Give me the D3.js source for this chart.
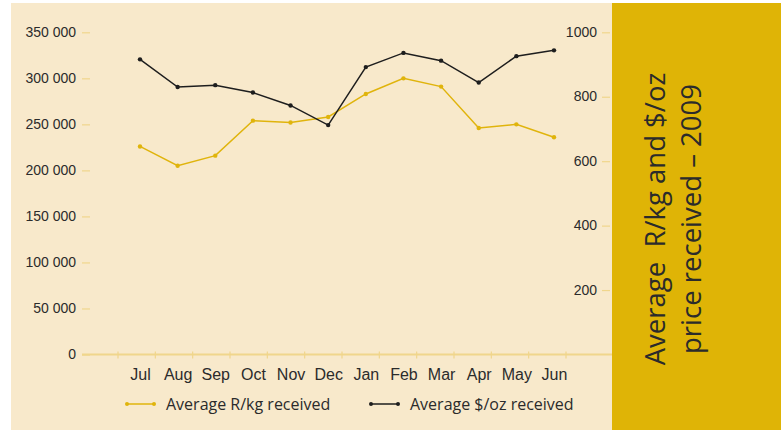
<!DOCTYPE html>
<html>
<head>
<meta charset="utf-8">
<script src="https://cdn.jsdelivr.net/npm/d3@7"></script>
<style>
  html, body { margin: 0; padding: 0; background: #fff; }
  svg { display: block; font-family: "Open Sans", sans-serif; }
  .tick text { fill: #2b2b2b; }
</style>
</head>
<body>
<svg id="chart" width="781" height="430"></svg>
<script>
// --- data ---
const months = ["Jul", "Aug", "Sep", "Oct", "Nov", "Dec", "Jan", "Feb", "Mar", "Apr", "May", "Jun"];
const randPerKg = [226000, 205000, 216000, 254000, 252000, 258000, 283000, 300000, 291000, 246000, 250000, 236000];
const usdPerOz = [916, 830, 836, 813, 773, 712, 892, 936, 912, 844, 926, 944];
const leftTicks = [0, 50000, 100000, 150000, 200000, 250000, 300000, 350000];
const rightTicks = [200, 400, 600, 800, 1000];
const seriesNames = ["Average R/kg received", "Average $/oz received"];
const titleLines = ["Average  R/kg and $/oz", "price received \u2013 2009"];

const colors = {
  bg: "#f8e9cb",
  panel: "#dfb406",
  gold: "#e0b40c",
  black: "#1e1e1e",
  axis: "#f0d68c",
  text: "#2b2b2b"
};

const svg = d3.select("#chart");

// backgrounds
svg.append("rect").attr("x", 11).attr("y", 3).attr("width", 601).attr("height", 427).attr("fill", colors.bg);
svg.append("rect").attr("x", 612).attr("y", 3).attr("width", 169).attr("height", 427).attr("fill", colors.panel);

// scales
const yTop = 32.3, yBottom = 354.5;
const yLeft = d3.scaleLinear().domain([0, 350000]).range([yBottom, yTop]);
const yRight = d3.scaleLinear().domain([0, 1000]).range([yBottom, yTop]);
const xPoint = d3.scalePoint().domain(months).range([140, 554]);
const xBand = d3.scaleBand().domain(months).range([118, 566]);

const fmt = v => d3.format(",")(v).replace(/,/g, " ");

// left axis
const leftAxis = svg.append("g")
  .attr("transform", "translate(90,0)")
  .call(d3.axisLeft(yLeft).tickValues(leftTicks).tickFormat(fmt).tickSize(8).tickPadding(6));
leftAxis.select(".domain").remove();
leftAxis.selectAll(".tick line").attr("stroke", colors.axis).attr("stroke-width", 1.2);
leftAxis.selectAll(".tick text").attr("font-size", 14).attr("dy", "0.3em");

// right axis
const rightAxis = svg.append("g")
  .attr("transform", "translate(610,0)")
  .call(d3.axisLeft(yRight).tickValues(rightTicks).tickFormat(d3.format("d")).tickSize(8).tickPadding(5));
rightAxis.select(".domain").remove();
rightAxis.selectAll(".tick line").attr("stroke", colors.axis).attr("stroke-width", 1.2);
rightAxis.selectAll(".tick text").attr("font-size", 14).attr("dy", "0.3em");

// x axis line + tick marks at band boundaries
svg.append("line")
  .attr("x1", 82).attr("x2", 612)
  .attr("y1", yBottom).attr("y2", yBottom)
  .attr("stroke", colors.axis).attr("stroke-width", 2);
const boundaries = months.map(m => xBand(m)).concat([xBand.range()[1]]);
svg.append("g").selectAll("line")
  .data(boundaries)
  .join("line")
  .attr("x1", d => d).attr("x2", d => d)
  .attr("y1", yBottom - 3).attr("y2", yBottom + 4)
  .attr("stroke", colors.axis).attr("stroke-width", 1.2);

// month labels
const xAxis = svg.append("g")
  .attr("transform", `translate(0,${yBottom})`)
  .call(d3.axisBottom(xPoint).tickSize(0).tickPadding(14));
xAxis.select(".domain").remove();
xAxis.selectAll(".tick text").attr("font-size", 16);

// series
function drawSeries(values, yScale, color) {
  const pts = values.map((v, i) => [xPoint(months[i]), yScale(v)]);
  svg.append("path")
    .datum(pts)
    .attr("fill", "none")
    .attr("stroke", color)
    .attr("stroke-width", 1.5)
    .attr("d", d3.line());
  svg.append("g").selectAll("circle")
    .data(pts)
    .join("circle")
    .attr("cx", d => d[0]).attr("cy", d => d[1])
    .attr("r", 2.2)
    .attr("fill", color);
}
drawSeries(randPerKg, yLeft, colors.gold);
drawSeries(usdPerOz, yRight, colors.black);

// legend
const legendItems = [
  { name: seriesNames[0], color: colors.gold, x: 127 },
  { name: seriesNames[1], color: colors.black, x: 371 }
];
const legendY = 404;
const lg = svg.append("g").selectAll("g")
  .data(legendItems)
  .join("g")
  .attr("transform", d => `translate(${d.x},${legendY})`);
lg.append("line").attr("x1", 0).attr("x2", 27).attr("y1", 0).attr("y2", 0)
  .attr("stroke", d => d.color).attr("stroke-width", 1.5);
lg.selectAll("circle")
  .data(d => [0, 27].map(x => ({ x, color: d.color })))
  .join("circle")
  .attr("cx", d => d.x).attr("cy", 0).attr("r", 2).attr("fill", d => d.color);
lg.append("text")
  .attr("x", 39).attr("y", 0).attr("dy", "0.35em")
  .attr("font-size", 16).attr("fill", colors.text)
  .text(d => d.name);

// rotated title in the yellow panel
const title = svg.append("text")
  .attr("transform", "translate(665,219) rotate(-90)")
  .attr("text-anchor", "middle")
  .attr("font-size", 27.5)
  .attr("fill", colors.text);
title.selectAll("tspan")
  .data(titleLines)
  .join("tspan")
  .attr("x", 0)
  .attr("dy", (d, i) => i === 0 ? 0 : 36)
  .attr("xml:space", "preserve")
  .style("white-space", "pre")
  .text(d => d);
</script>
</body>
</html>
